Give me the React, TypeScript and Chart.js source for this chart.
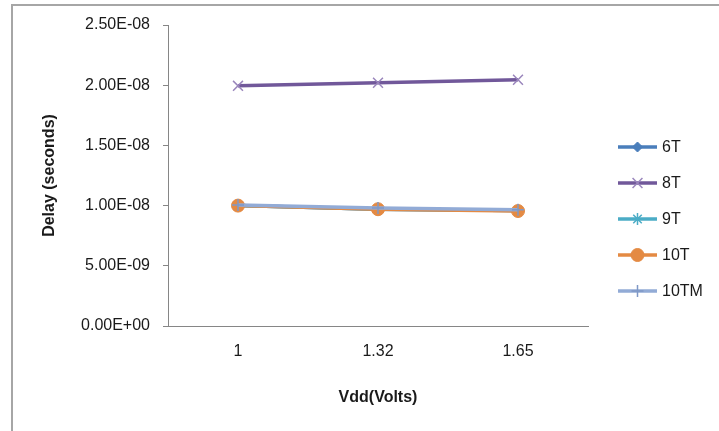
import React, { useEffect, useRef } from "react";
import { Chart, registerables } from "chart.js";

Chart.register(...registerables);

const categories = ["1", "1.32", "1.65"];
const seriesNames = ["6T", "8T", "9T", "10T", "10TM"];
const s6T = [1.0e-8, 9.7e-9, 9.6e-9];
const s8T = [1.995e-8, 2.02e-8, 2.045e-8];
const s9T = [1.0e-8, 9.7e-9, 9.6e-9];
const s10T = [1.0e-8, 9.7e-9, 9.55e-9];
const s10TM = [1.005e-8, 9.8e-9, 9.65e-9];
const yMax = 2.5e-8;
const yStep = 5e-9;

const FONT = "'Liberation Sans', Arial, sans-serif";

function fmtExp(v: number): string {
  if (v === 0) return "0.00E+00";
  const [m, e] = v.toExponential(2).split("e");
  const n = parseInt(e, 10);
  const sign = n < 0 ? "-" : "+";
  const a = Math.abs(n);
  return m + "E" + sign + (a < 10 ? "0" + a : "" + a);
}

const styles = [
  { line: "#4A7EBB", point: "#4A7EBB", style: "rectRot", r: 5, fill: true },
  { line: "#71589A", point: "#9A86BC", style: "crossRot", r: 7, fill: false },
  { line: "#4BACC6", point: "#4BACC6", style: "star", r: 6, fill: false },
  { line: "#E48A43", point: "#E48A43", style: "circle", r: 6.5, fill: true },
  { line: "#92ABD6", point: "#7F98C6", style: "cross", r: 6, fill: false },
];

function marker(ctx: CanvasRenderingContext2D, style: string, x: number, y: number, r: number, fill: string, stroke: string, lw: number) {
  ctx.save();
  ctx.fillStyle = fill;
  ctx.strokeStyle = stroke;
  ctx.lineWidth = lw;
  ctx.beginPath();
  if (style === "circle") {
    ctx.arc(x, y, r, 0, Math.PI * 2);
    ctx.fill();
    ctx.stroke();
  } else if (style === "rectRot") {
    ctx.moveTo(x, y - r);
    ctx.lineTo(x + r, y);
    ctx.lineTo(x, y + r);
    ctx.lineTo(x - r, y);
    ctx.closePath();
    ctx.fill();
    ctx.stroke();
  } else if (style === "crossRot" || style === "star" || style === "cross") {
    const d = r * Math.SQRT1_2;
    if (style !== "cross") {
      ctx.moveTo(x - d, y - d);
      ctx.lineTo(x + d, y + d);
      ctx.moveTo(x - d, y + d);
      ctx.lineTo(x + d, y - d);
    }
    if (style !== "crossRot") {
      ctx.moveTo(x, y - r);
      ctx.lineTo(x, y + r);
      ctx.moveTo(x - r, y);
      ctx.lineTo(x + r, y);
    }
    ctx.stroke();
  }
  ctx.restore();
}

export default function App() {
  const ref = useRef<HTMLCanvasElement | null>(null);
  useEffect(() => {
    if (!ref.current) return;
    const data = [s6T, s8T, s9T, s10T, s10TM];
    const datasets = data.map((d, i) => ({
      label: seriesNames[i],
      data: d,
      borderColor: styles[i].line,
      backgroundColor: styles[i].fill ? styles[i].point : "rgba(0,0,0,0)",
      pointBorderColor: styles[i].point,
      pointBackgroundColor: styles[i].point,
      pointStyle: styles[i].style as any,
      pointRadius: styles[i].r,
      pointBorderWidth: styles[i].fill ? 1 : 1.5,
      borderWidth: 3.5,
      tension: 0,
      order: 4 - i,
    }));

    const framePlugin = {
      id: "frame",
      beforeDraw(chart: any) {
        const ctx = chart.ctx;
        ctx.save();
        ctx.fillStyle = "#ffffff";
        ctx.fillRect(0, 0, chart.width, chart.height);
        ctx.strokeStyle = "#A6A6A6";
        ctx.lineWidth = 2;
        ctx.beginPath();
        ctx.moveTo(12, chart.height + 5);
        ctx.lineTo(12, 5);
        ctx.lineTo(chart.width + 5, 5);
        ctx.stroke();
        ctx.restore();
      },
    };

    const legendPlugin = {
      id: "customLegend",
      afterDraw(chart: any) {
        const ctx = chart.ctx;
        ctx.save();
        const x0 = 618;
        const x1 = 657;
        const yStart = 147;
        const gap = 36;
        chart.data.datasets.forEach((ds: any, i: number) => {
          const y = yStart + i * gap;
          ctx.strokeStyle = ds.borderColor;
          ctx.lineWidth = 3.5;
          ctx.beginPath();
          ctx.moveTo(x0, y);
          ctx.lineTo(x1, y);
          ctx.stroke();
          const s = styles[i];
          marker(ctx, s.style, (x0 + x1) / 2, y, s.r, s.point, s.point, s.fill ? 1 : 1.5);
          ctx.fillStyle = "#1a1a1a";
          ctx.font = "16px " + FONT;
          ctx.textAlign = "left";
          ctx.textBaseline = "middle";
          ctx.fillText(ds.label, 662, y + 1);
        });
        ctx.restore();
      },
    };

    const chart = new Chart(ref.current, {
      type: "line",
      data: { labels: categories, datasets: datasets as any },
      plugins: [framePlugin, legendPlugin],
      options: {
        animation: false,
        responsive: false,
        maintainAspectRatio: false,
        devicePixelRatio: 1,
        layout: { padding: { top: 25, right: 131, bottom: 0, left: 0 } },
        plugins: {
          legend: { display: false },
          tooltip: { enabled: false },
        },
        scales: {
          x: {
            type: "category",
            offset: true,
            afterFit(scale: any) {
              scale.height = 431 - 326;
            },
            grid: { display: false, drawTicks: false },
            border: { display: true, color: "#868686", width: 1 },
            ticks: {
              color: "#1a1a1a",
              font: { family: FONT, size: 16 },
              padding: 16,
              maxRotation: 0,
            },
            title: {
              display: true,
              text: "Vdd(Volts)",
              color: "#1a1a1a",
              font: { family: FONT, size: 16, weight: "bold" },
              padding: { top: 0, bottom: 24 },
            },
          },
          y: {
            min: 0,
            max: yMax,
            afterFit(scale: any) {
              scale.width = 168;
            },
            grid: {
              drawOnChartArea: false,
              drawTicks: true,
              tickLength: 5,
              color: "#868686",
            },
            border: { display: true, color: "#868686", width: 1 },
            ticks: {
              stepSize: yStep,
              color: "#1a1a1a",
              font: { family: FONT, size: 16 },
              padding: 13,
              callback: (v: any) => fmtExp(Number(v)),
            },
            title: {
              display: true,
              text: "Delay (seconds)",
              color: "#1a1a1a",
              font: { family: FONT, size: 16, weight: "bold" },
              padding: { top: 40, bottom: 0 },
            },
          },
        },
      } as any,
    });
    return () => chart.destroy();
  }, []);
  return (
    <div style={{ position: "absolute", left: 0, top: 0, width: 719, height: 431 }}>
      <canvas ref={ref} width={719} height={431} style={{ display: "block" }} />
    </div>
  );
}
